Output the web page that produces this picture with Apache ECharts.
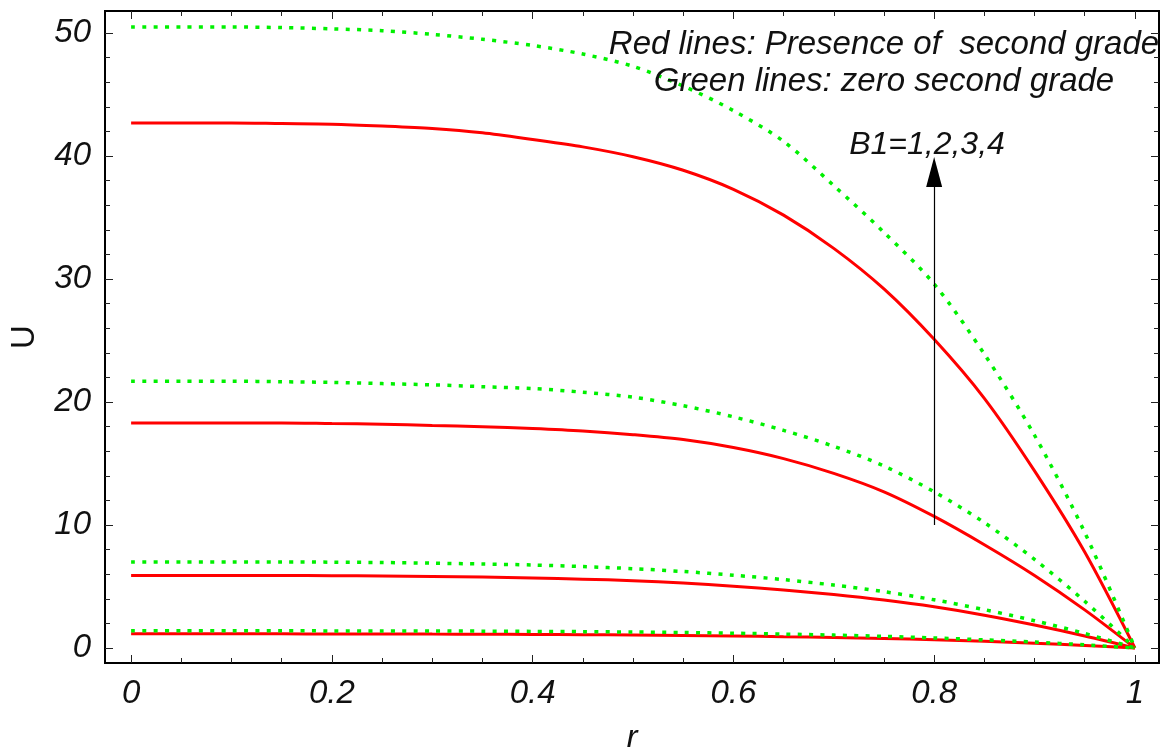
<!DOCTYPE html>
<html>
<head>
<meta charset="utf-8">
<script src="https://cdn.jsdelivr.net/npm/echarts@6/dist/echarts.min.js"></script>
<style>
html,body{margin:0;padding:0;background:#fff;}
#chart{width:1167px;height:747px;}
</style>
</head>
<body>
<div id="chart"></div>
<script>
// ---- data ----
const rValues = [0, 0.05, 0.1, 0.15, 0.2, 0.25, 0.3, 0.35, 0.4, 0.45, 0.5, 0.55, 0.6, 0.65, 0.7, 0.75, 0.8, 0.85, 0.9, 0.95, 1];

// Red lines: presence of second grade (B1 = 1,2,3,4)
const redB1 = [1.15, 1.15, 1.15, 1.15, 1.14, 1.14, 1.13, 1.12, 1.10, 1.08, 1.06, 1.02, 0.98, 0.92, 0.86, 0.78, 0.67, 0.54, 0.39, 0.21, 0];
const redB2 = [5.9, 5.9, 5.9, 5.9, 5.88, 5.86, 5.82, 5.77, 5.7, 5.6, 5.47, 5.28, 5.03, 4.72, 4.35, 3.9, 3.35, 2.67, 1.87, 0.98, 0];
const redB3 = [18.3, 18.3, 18.3, 18.3, 18.25, 18.2, 18.1, 18.0, 17.85, 17.65, 17.35, 16.95, 16.3, 15.4, 14.2, 12.7, 10.7, 8.4, 5.9, 3.1, 0];
const redB4 = [42.7, 42.7, 42.7, 42.65, 42.6, 42.45, 42.25, 41.9, 41.35, 40.75, 39.95, 38.85, 37.3, 35.2, 32.5, 29.2, 25.1, 20.3, 14.4, 7.8, 0];

// Green lines: zero second grade (B1 = 1,2,3,4)
const greenB1 = [1.4, 1.4, 1.4, 1.4, 1.39, 1.39, 1.38, 1.37, 1.35, 1.33, 1.3, 1.26, 1.2, 1.13, 1.05, 0.95, 0.82, 0.66, 0.48, 0.26, 0];
const greenB2 = [7.0, 7.0, 7.0, 7.0, 6.98, 6.95, 6.9, 6.83, 6.75, 6.62, 6.45, 6.22, 5.92, 5.56, 5.12, 4.58, 3.92, 3.12, 2.22, 1.18, 0];
const greenB3 = [21.7, 21.7, 21.7, 21.65, 21.6, 21.5, 21.4, 21.25, 21.1, 20.8, 20.4, 19.7, 18.8, 17.7, 16.4, 14.8, 12.7, 10.2, 7.2, 3.8, 0];
const greenB4 = [50.5, 50.5, 50.5, 50.45, 50.35, 50.2, 49.9, 49.5, 49.0, 48.3, 47.3, 45.7, 43.7, 41.2, 37.6, 33.8, 29.6, 23.9, 17.3, 9.4, 0];

const xMajorTicks = [0, 0.2, 0.4, 0.6, 0.8, 1];
const xMinorTicks = [0, 0.05, 0.1, 0.15, 0.2, 0.25, 0.3, 0.35, 0.4, 0.45, 0.5, 0.55, 0.6, 0.65, 0.7, 0.75, 0.8, 0.85, 0.9, 0.95, 1];
const yMajorTicks = [0, 10, 20, 30, 40, 50];
const yMinorTicks = [0, 2, 4, 6, 8, 10, 12, 14, 16, 18, 20, 22, 24, 26, 28, 30, 32, 34, 36, 38, 40, 42, 44, 46, 48, 50];

const arrowFrom = [0.8, 10];
const arrowTo = [0.8, 38.7];

const legendLine1 = 'Red lines: Presence of  second grade';
const legendLine2 = 'Green lines: zero second grade';
const arrowLabel = 'B1=1,2,3,4';

// ---- chart ----
const FONT = "'Liberation Sans', Arial, sans-serif";
const X_MIN = -0.026, X_MAX = 1.024, Y_MIN = -1.22, Y_MAX = 51.8;

function pairs(vals) { return rValues.map((r, i) => [r, vals[i]]); }

function xAxisDef(pos, ticks, len, labels) {
  return {
    type: 'value', position: pos, min: X_MIN, max: X_MAX,
    axisLine: { show: true, onZero: false, lineStyle: { color: '#000', width: 2 } },
    axisTick: { show: true, inside: true, length: len, customValues: ticks, lineStyle: { color: '#222', width: 1 } },
    axisLabel: labels ? { show: true, customValues: xMajorTicks, margin: 14, fontSize: 33, fontStyle: 'italic', fontFamily: FONT, color: '#111' } : { show: false },
    splitLine: { show: false }
  };
}
function yAxisDef(pos, ticks, len, labels) {
  return {
    type: 'value', position: pos, min: Y_MIN, max: Y_MAX,
    axisLine: { show: true, onZero: false, lineStyle: { color: '#000', width: 2 } },
    axisTick: { show: true, inside: true, length: len, customValues: ticks, lineStyle: { color: '#222', width: 1 } },
    axisLabel: labels ? { show: true, customValues: yMajorTicks, margin: 14, fontSize: 33, fontStyle: 'italic', fontFamily: FONT, color: '#111' } : { show: false },
    splitLine: { show: false }
  };
}

const xAxes = [
  Object.assign(xAxisDef('bottom', xMajorTicks, 8, true), { name: 'r', nameLocation: 'middle', nameGap: 59, nameTextStyle: { fontSize: 33, fontStyle: 'italic', fontFamily: FONT, color: '#111' } }),
  xAxisDef('bottom', xMinorTicks, 5, false),
  xAxisDef('top', xMajorTicks, 8, false),
  xAxisDef('top', xMinorTicks, 5, false)
];
const yAxes = [
  Object.assign(yAxisDef('left', yMajorTicks, 8, true), { name: 'U', nameLocation: 'middle', nameGap: 64, nameTextStyle: { fontSize: 33, fontFamily: FONT, color: '#111' } }),
  yAxisDef('left', yMinorTicks, 5, false),
  yAxisDef('right', yMajorTicks, 8, false),
  yAxisDef('right', yMinorTicks, 5, false)
];

function redSeries(vals) {
  return { type: 'line', data: pairs(vals), showSymbol: false, smooth: 0.3,
    lineStyle: { color: '#ff0000', width: 3 }, itemStyle: { color: '#ff0000' }, z: 2, silent: true };
}
function greenSeries(vals) {
  return { type: 'line', data: pairs(vals), showSymbol: false, smooth: 0.3,
    lineStyle: { color: '#00f000', width: 3.5, type: [4, 7.3] }, itemStyle: { color: '#00f000' }, z: 3, silent: true };
}

const series = [
  redSeries(redB1), redSeries(redB2), redSeries(redB3), redSeries(redB4),
  greenSeries(greenB1), greenSeries(greenB2), greenSeries(greenB3), greenSeries(greenB4),
  {
    type: 'line', data: [], silent: true, z: 4,
    markLine: {
      silent: true, animation: false,
      symbol: ['none', 'triangle'], symbolSize: [16, 30],
      lineStyle: { color: '#000', width: 1.2, type: 'solid' },
      itemStyle: { color: '#000' },
      label: { show: false },
      data: [[{ coord: arrowFrom }, { coord: arrowTo }]]
    }
  }
];

const chart = echarts.init(document.getElementById('chart'), null, { renderer: 'canvas' });
chart.setOption({
  animation: false,
  backgroundColor: '#fff',
  grid: { left: 105, right: 8, top: 11, bottom: 84, containLabel: false, outerBoundsMode: 'none' },
  xAxis: xAxes,
  yAxis: yAxes,
  series: series,
  graphic: [
    { type: 'text', x: 884, y: 45, style: { text: legendLine1, font: 'italic 33px ' + FONT, fill: '#111', align: 'center', verticalAlign: 'middle' }, z: 10 },
    { type: 'text', x: 884, y: 82, style: { text: legendLine2, font: 'italic 33px ' + FONT, fill: '#111', align: 'center', verticalAlign: 'middle' }, z: 10 },
    { type: 'text', x: 927, y: 145, style: { text: arrowLabel, font: 'italic 32px ' + FONT, fill: '#111', align: 'center', verticalAlign: 'middle' }, z: 10 }
  ]
});
</script>
</body>
</html>
